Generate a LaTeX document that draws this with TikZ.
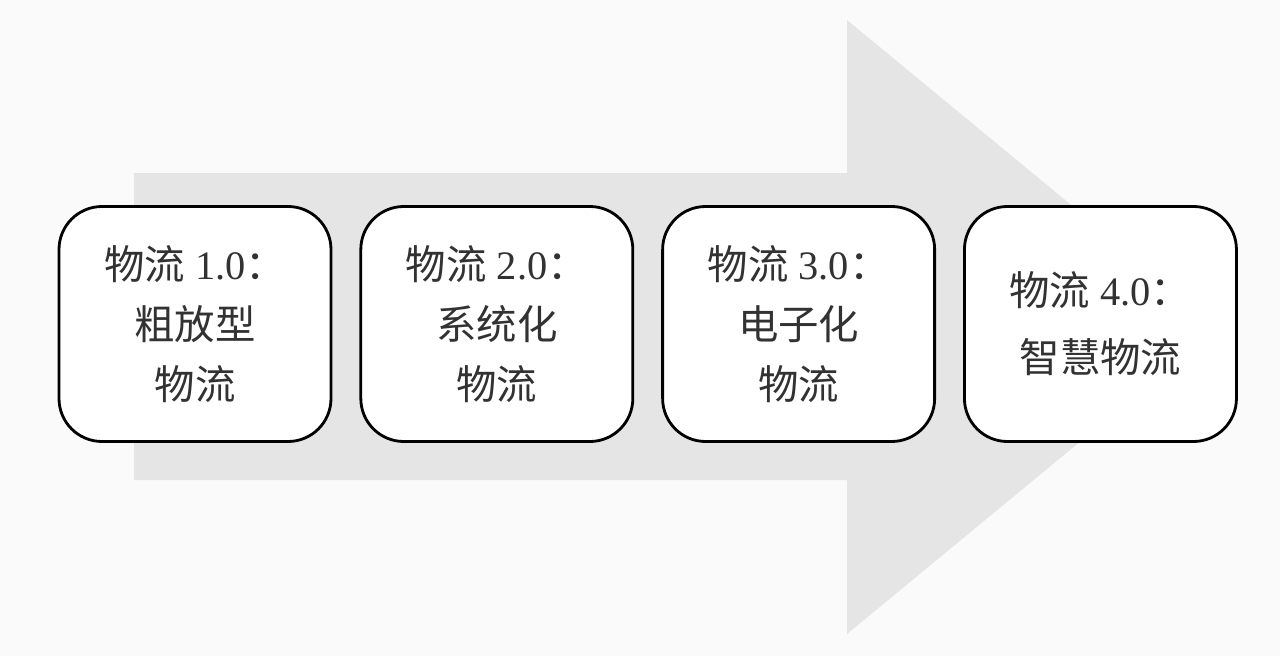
\documentclass[tikz,border=0pt]{standalone}
\usepackage{fontspec}
\setmainfont{Liberation Serif}
\newfontfamily\cjk{Noto Sans CJK SC}
\usetikzlibrary{positioning}
\definecolor{paperGray}{RGB}{250,250,250}
\definecolor{arrowGray}{RGB}{229,229,229}
\definecolor{inkGray}{RGB}{50,50,50}

\begin{document}
\begin{tikzpicture}[
  x=0.2mm, y=-0.2mm,
  stage/.style={
    rectangle, rounded corners=0.86cm,
    draw=black, line width=1.6pt, fill=white,
    minimum width=5.44cm, minimum height=4.7cm,
    inner sep=0pt, align=center, text=inkGray,
    font=\fontsize{23}{34}\selectfont
  },
  node distance=0.54cm
]
  \fill[paperGray] (0,0) rectangle (1280,656);

  % the big grey arrow behind the stages
  \fill[arrowGray] (134,173) -- (847,173) -- (847,20) -- (1219,327)
    -- (847,634) -- (847,480) -- (134,480) -- cycle;

  \node[stage] (s1) at (195,324)
    {{\cjk 物流} 1.0{\cjk ：}\\{\cjk 粗放型}\\{\cjk 物流}};
  \node[stage, right=of s1] (s2)
    {{\cjk 物流} 2.0{\cjk ：}\\{\cjk 系统化}\\{\cjk 物流}};
  \node[stage, right=of s2] (s3)
    {{\cjk 物流} 3.0{\cjk ：}\\{\cjk 电子化}\\{\cjk 物流}};
  \node[stage, right=of s3, font=\fontsize{23}{38}\selectfont] (s4)
    {{\cjk 物流} 4.0{\cjk ：}\\{\cjk 智慧物流}};
\end{tikzpicture}
\end{document}
